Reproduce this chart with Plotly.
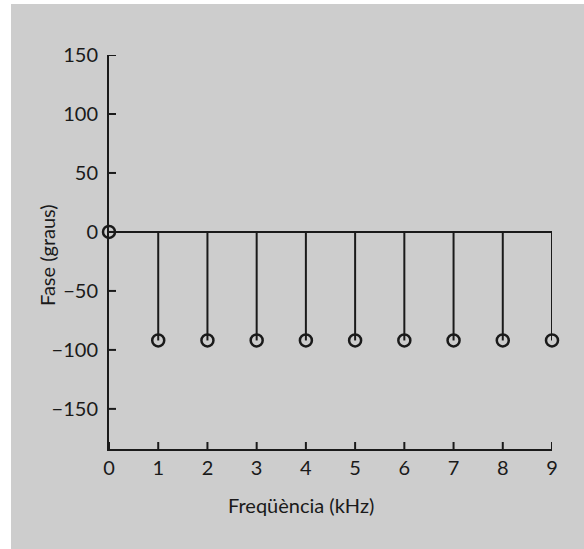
import plotly.graph_objects as go

freq_khz = [0, 1, 2, 3, 4, 5, 6, 7, 8, 9]
phase_deg = [0, -92, -92, -92, -92, -92, -92, -92, -92, -92]
x_ticks = [0, 1, 2, 3, 4, 5, 6, 7, 8, 9]
y_ticks = [-150, -100, -50, 0, 50, 100, 150]
y_tick_text = ["\u2212150", "\u2212100", "\u221250", "0", "50", "100", "150"]
x_range = [0, 9]
y_range = [-184, 150]

FONT = "Lato"
BLACK = "#1a1a1a"
FS = 20
TICKLEN = 7

stem_x, stem_y = [], []
for f, p in zip(freq_khz, phase_deg):
    stem_x += [f, f, None]
    stem_y += [0, p, None]

fig = go.Figure()
fig.add_trace(go.Scatter(x=[freq_khz[0], freq_khz[-1]], y=[0, 0], mode="lines",
                         line=dict(color=BLACK, width=2), hoverinfo="skip",
                         showlegend=False, cliponaxis=False))
fig.add_trace(go.Scatter(x=stem_x, y=stem_y, mode="lines",
                         line=dict(color=BLACK, width=2), hoverinfo="skip",
                         showlegend=False, cliponaxis=False))
fig.add_trace(go.Scatter(x=freq_khz, y=phase_deg, mode="markers",
                         marker=dict(symbol="circle-open", size=12, color=BLACK,
                                     line=dict(color=BLACK, width=2.5)),
                         showlegend=False, cliponaxis=False))

L, R, T, B = 109, 32, 55, 100
W, H = 584, 549
pw, ph = W - L - R, H - T - B

def px_x(p):
    return (p - L) / pw

def px_y(p):
    return (T + ph - p) / ph

# white border strips on left and top
fig.add_shape(type="rect", xref="paper", yref="paper", layer="below",
              x0=px_x(0), x1=px_x(11), y0=px_y(H), y1=px_y(0),
              fillcolor="white", line=dict(width=0))
fig.add_shape(type="rect", xref="paper", yref="paper", layer="below",
              x0=px_x(0), x1=px_x(W), y0=px_y(4), y1=px_y(0),
              fillcolor="white", line=dict(width=0))

# inside tick marks
for xv in x_ticks:
    fig.add_shape(type="line", xref="x", yref="y", ysizemode="pixel",
                  yanchor=y_range[0], x0=xv, x1=xv, y0=0, y1=TICKLEN,
                  line=dict(color=BLACK, width=2), layer="above")
for yv in y_ticks:
    fig.add_shape(type="line", xref="x", yref="y", xsizemode="pixel",
                  xanchor=x_range[0], y0=yv, y1=yv, x0=0, x1=TICKLEN,
                  line=dict(color=BLACK, width=2), layer="above")

fig.add_annotation(text="Freqüència (kHz)", xref="paper", yref="paper",
                   x=px_x(301), y=px_y(505), showarrow=False,
                   xanchor="center", yanchor="middle", font=dict(size=FS))
fig.add_annotation(text="Fase (graus)", xref="paper", yref="paper",
                   x=px_x(47), y=px_y(255), showarrow=False, textangle=-90,
                   xanchor="center", yanchor="middle", font=dict(size=FS))

fig.update_layout(
    width=W, height=H,
    margin=dict(l=L, r=R, t=T, b=B, pad=0),
    paper_bgcolor="#cdcdcd",
    plot_bgcolor="rgba(0,0,0,0)",
    font=dict(family=FONT, size=FS, color=BLACK),
    xaxis=dict(range=x_range, tickmode="array", tickvals=x_ticks,
               ticktext=[str(v) for v in x_ticks], ticks="",
               showline=True, linecolor=BLACK, linewidth=2,
               showgrid=False, zeroline=False),
    yaxis=dict(range=y_range, tickmode="array", tickvals=y_ticks,
               ticktext=[t + "\u2009\u2009" for t in y_tick_text], ticks="",
               showline=True, linecolor=BLACK, linewidth=2,
               showgrid=False, zeroline=False),
)

fig.write_html("out.html")
